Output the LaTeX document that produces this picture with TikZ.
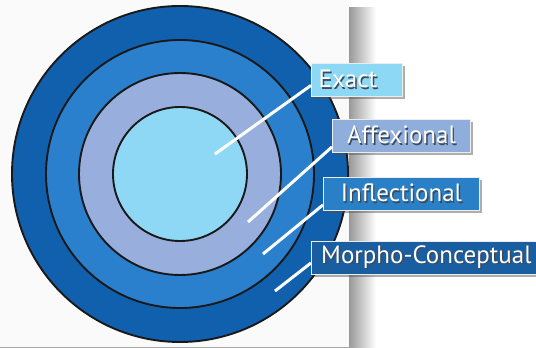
\documentclass[tikz,border=0pt]{standalone}
\usepackage{fontspec}
\setmainfont{PT Sans}
\usetikzlibrary{shadows,calc}
\definecolor{ringA}{HTML}{1060AE}
\definecolor{ringB}{HTML}{2A80CC}
\definecolor{ringC}{HTML}{98AEDC}
\definecolor{ringD}{HTML}{8ED8F5}
\definecolor{boxA}{HTML}{8DD8F5}
\definecolor{boxB}{HTML}{8FAEDC}
\definecolor{boxC}{HTML}{2A80C6}
\definecolor{boxD}{HTML}{1A5EA2}
\definecolor{txtsh}{HTML}{1A2A40}
\newcommand{\shtext}[1]{\rlap{\hspace{1.4pt}\raisebox{-1.4pt}{\color{txtsh!85}#1}}#1}
\tikzset{
  ring/.style={draw=black!90, line width=1.9pt},
  lbl/.style={draw=white!85!gray, line width=0.8pt, minimum height=33pt, inner sep=0pt,
    anchor=north west, text=white, font=\fontsize{25}{25}\selectfont,
    drop shadow={shadow xshift=3pt, shadow yshift=-3pt, opacity=0.45, fill=black!70}},
  pointer/.style={white, line width=3pt}
}
\begin{document}
\begin{tikzpicture}[x=1pt,y=1pt]
\useasboundingbox (0,0) rectangle (536,348);
\fill[white] (0,0) rectangle (536,348);
% panel shadow
\shade[left color=black!40, right color=white] (349,0) rectangle (376,340);
\fill[white!98!black] (0,0.5) rectangle (349,348);
\draw[black!35, line width=0.6pt] (0,0.5) -- (349,0.5);
% rings
\node[ring, circle, fill=ringA, minimum size=336pt, inner sep=0pt] (r1) at (180,174) {};
\node[ring, circle, fill=ringB, minimum size=268pt, inner sep=0pt] (r2) at (180,174) {};
\node[ring, circle, fill=ringC, minimum size=202pt, inner sep=0pt] (r3) at (180,174) {};
\node[ring, circle, fill=ringD, minimum size=134pt, inner sep=0pt] (r4) at (180,174) {};
% pointer ends
\coordinate (e1) at (215,194);
\coordinate (e2) at (248,126);
\coordinate (e3) at (263,94);
\coordinate (e4) at (275,57);
% labels
\node[lbl, fill=boxA, minimum width=91pt] (l1) at (311,285) {\shtext{Exact}\kern18pt};
\node[lbl, fill=boxB, minimum width=138pt] (l2) at (332,229) {\shtext{Affexional}};
\node[lbl, fill=boxC, minimum width=156pt] (l3) at (323,171) {\shtext{Inflectional}};
\node[lbl, fill=boxD, minimum width=230pt] (l4) at (311,107) {\shtext{Morpho-Conceptual}};
% pointers
\draw[pointer] ([yshift=-5.5pt]l1.west) -- (e1);
\draw[pointer] ([yshift=-11pt]l2.west) -- (e2);
\draw[pointer] ([yshift=-11pt]l3.west) -- (e3);
\draw[pointer] ([yshift=-5pt]l4.west) -- (e4);
\end{tikzpicture}
\end{document}
